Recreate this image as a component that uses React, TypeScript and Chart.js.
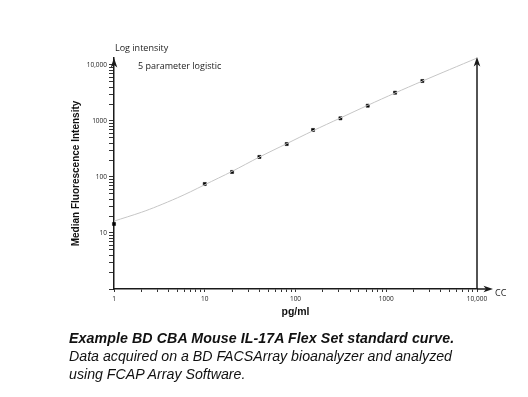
import React, { useEffect, useRef } from 'react';
import { Chart, registerables } from 'chart.js';

Chart.register(...registerables);

// Standards (0 pg/ml plotted at 1)
const STD_CONC = [1, 10, 20, 40, 80, 156, 312.5, 625, 1250, 2500];
const STD_MFI = [14.5, 75, 123, 228, 388, 691, 1117, 1876, 3200, 5180];

// 5 parameter logistic curve
const CURVE_CONC = [1, 2, 3, 5, 7, 10, 20, 40, 80, 156, 312.5, 625, 1250, 2500, 5000, 10000];
const CURVE_MFI = [16.3, 23.4, 30, 42.5, 54.7, 72.8, 126, 227, 394, 670, 1132, 1905, 3162, 5160, 8300, 13300];

const X_MAJOR = [1, 10, 100, 1000, 10000];
const X_TICK_LABELS = ['1', '10', '100', '1000', '10,000'];
const Y_MAJOR = [1, 10, 100, 1000, 10000];
const Y_TICK_LABELS = ['', '10', '100', '1000', '10,000'];
const MINOR_STEPS = [2, 3, 4, 5, 6, 7, 8, 9];

const X_MIN = 1;
const X_MAX = 10000;
const Y_MIN = 1;
const Y_MAX = 13335;

function buildTicks(majors: number[], min: number, max: number) {
  const out: { value: number; major: boolean }[] = [];
  majors.forEach((m) => {
    if (m >= min && m <= max) out.push({ value: m, major: true });
    MINOR_STEPS.forEach((s) => {
      const v = m * s;
      if (v > min && v < max && v < m * 10) out.push({ value: v, major: false });
    });
  });
  return out.sort((a, b) => a.value - b.value);
}

function arrowUp(ctx: CanvasRenderingContext2D, x: number, y: number) {
  ctx.beginPath();
  ctx.moveTo(x, y);
  ctx.lineTo(x - 3.3, y + 9.5);
  ctx.lineTo(x, y + 7);
  ctx.lineTo(x + 3.3, y + 9.5);
  ctx.closePath();
  ctx.fill();
}

function arrowRight(ctx: CanvasRenderingContext2D, x: number, y: number) {
  ctx.beginPath();
  ctx.moveTo(x, y);
  ctx.lineTo(x - 9.5, y - 3.3);
  ctx.lineTo(x - 7, y);
  ctx.lineTo(x - 9.5, y + 3.3);
  ctx.closePath();
  ctx.fill();
}

const axisArrows = {
  id: 'axisArrows',
  afterDraw(chart: any) {
    const { ctx, chartArea: a, scales } = chart;
    const xr = scales.x.getPixelForValue(X_MAX);
    ctx.save();
    ctx.strokeStyle = '#1a1a1a';
    ctx.fillStyle = '#1a1a1a';
    ctx.lineWidth = 1.5;
    ctx.beginPath();
    ctx.moveTo(xr, a.bottom);
    ctx.lineTo(xr, a.top + 4);
    ctx.stroke();
    ctx.beginPath();
    ctx.moveTo(a.right, a.bottom);
    ctx.lineTo(a.right + 12, a.bottom);
    ctx.stroke();
    arrowUp(ctx, xr, a.top - 1);
    arrowUp(ctx, a.left, a.top);
    arrowRight(ctx, a.right + 16, a.bottom);
    ctx.restore();
  },
};

const W = 528;
const H = 330;

export default function App() {
  const ref = useRef<HTMLCanvasElement | null>(null);

  useEffect(() => {
    if (!ref.current) return;
    Chart.defaults.font.family = '"Open Sans", "DejaVu Sans", sans-serif';
    const chart = new Chart(ref.current, {
      type: 'scatter',
      data: {
        datasets: [
          {
            type: 'line',
            label: 'curve',
            data: CURVE_CONC.map((c, i) => ({ x: c, y: CURVE_MFI[i] })),
            borderColor: '#c6c6c6',
            borderWidth: 1,
            pointRadius: 0,
            tension: 0.3,
            fill: false,
            clip: false as any,
          } as any,
          {
            label: 'standards',
            data: STD_CONC.map((c, i) => ({ x: c, y: STD_MFI[i] })),
            pointStyle: 'rect',
            pointRadius: 2.2,
            pointBackgroundColor: '#000',
            pointBorderColor: '#000',
            pointBorderWidth: 0.5,
            showLine: false,
            clip: false as any,
          } as any,
        ],
      },
      options: {
        animation: false,
        responsive: false,
        maintainAspectRatio: false,
        devicePixelRatio: 1,
        layout: { padding: { left: 0, right: 51, top: 58, bottom: 0 } },
        plugins: {
          legend: { display: false },
          tooltip: { enabled: false },
        },
        scales: {
          x: {
            type: 'logarithmic',
            position: 'bottom',
            min: X_MIN,
            max: X_MAX,
            afterBuildTicks: (scale: any) => {
              scale.ticks = buildTicks(X_MAJOR, X_MIN, X_MAX);
            },
            afterFit: (scale: any) => {
              scale.height = H - 289;
            },
            ticks: {
              autoSkip: false,
              maxRotation: 0,
              minRotation: 0,
              padding: 3,
              color: '#222',
              font: { size: 6.5 },
              callback: (value: any) => {
                const i = X_MAJOR.indexOf(Number(value));
                return i >= 0 ? X_TICK_LABELS[i] : '';
              },
            },
            grid: {
              drawOnChartArea: false,
              drawTicks: true,
              tickLength: 3,
              tickColor: '#333',
              tickWidth: 1,
            },
            border: { display: true, color: '#1a1a1a', width: 1.5 },
            title: {
              display: true,
              text: 'pg/ml',
              color: '#111',
              font: { family: '"Liberation Sans", Arial, sans-serif', size: 10.5, weight: 'bold' },
              padding: { top: 0, bottom: 11.7 },
            },
          },
          y: {
            type: 'logarithmic',
            position: 'left',
            min: Y_MIN,
            max: Y_MAX,
            afterBuildTicks: (scale: any) => {
              scale.ticks = buildTicks(Y_MAJOR, Y_MIN, Y_MAX);
            },
            afterFit: (scale: any) => {
              scale.width = 114;
            },
            ticks: {
              autoSkip: false,
              padding: 2,
              color: '#222',
              font: { size: 6.5 },
              callback: (value: any) => {
                const i = Y_MAJOR.indexOf(Number(value));
                return i >= 0 ? Y_TICK_LABELS[i] : '';
              },
            },
            grid: {
              drawOnChartArea: false,
              drawTicks: true,
              tickLength: 5,
              tickColor: '#333',
              tickWidth: 1,
            },
            border: { display: true, color: '#1a1a1a', width: 1.5 },
            title: {
              display: true,
              text: 'Median Fluorescence Intensity',
              color: '#111',
              font: { family: '"Liberation Sans", Arial, sans-serif', size: 10, weight: 'bold' },
              padding: { top: 70, bottom: 0 },
            },
          },
        },
      } as any,
      plugins: [axisArrows],
    });
    return () => chart.destroy();
  }, []);

  const small: React.CSSProperties = {
    position: 'absolute',
    font: '9px "Open Sans", "DejaVu Sans", sans-serif',
    color: '#222',
    whiteSpace: 'nowrap',
    lineHeight: '10px',
  };

  return (
    <div style={{ position: 'absolute', left: 0, top: 0, width: W, height: 397, background: '#fff' }}>
      <canvas ref={ref} width={W} height={H} style={{ position: 'absolute', left: 0, top: 0, width: W, height: H }} />
      <div style={{ ...small, left: 115, top: 43 }}>Log intensity</div>
      <div style={{ ...small, left: 138, top: 61 }}>5 parameter logistic</div>
      <div style={{ ...small, left: 495, top: 288 }}>CC</div>
      <div
        style={{
          position: 'absolute',
          left: 69,
          top: 329,
          font: 'italic 14.2px "Liberation Sans", Arial, sans-serif',
          lineHeight: '18px',
          color: '#111',
          whiteSpace: 'nowrap',
        }}
      >
        <div style={{ fontWeight: 'bold', letterSpacing: '0.09px' }}>
          Example BD CBA Mouse IL-17A Flex Set standard curve.
        </div>
        <div>Data acquired on a BD FACSArray bioanalyzer and analyzed</div>
        <div>using FCAP Array Software.</div>
      </div>
    </div>
  );
}
